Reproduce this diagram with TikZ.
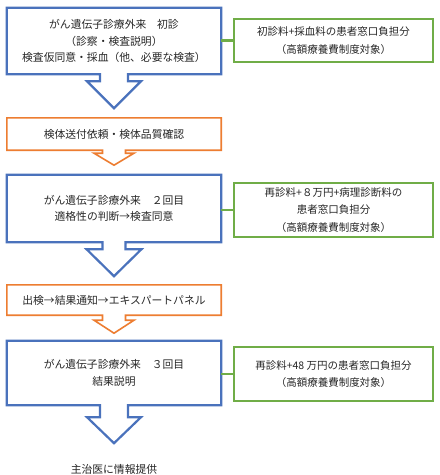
\documentclass[tikz,border=0pt]{standalone}
\usepackage{fontspec}
\setmainfont{Noto Sans CJK JP}
\definecolor{cblue}{HTML}{4A72BC}
\definecolor{corange}{HTML}{ED7D31}
\definecolor{cgreen}{HTML}{70AD47}
\newcommand\drawcallout[6]{%
  \draw[#2] (#1.south west) -- (#1.north west) -- (#1.north east) -- (#1.south east)
    -- ([xshift=#3pt]#1.south) -- ++(0,#4) -- ++({#5-#3},0) -- ++(-#5,#6)
    -- ++(-#5,-#6) -- ++({#5-#3},0) -- ++(0,-#4) -- cycle;}
\begin{document}
\begin{tikzpicture}[x=1pt,y=-1pt,
  box/.style={draw=none, align=center, inner sep=0pt, minimum width=214pt,
    font=\fontsize{10.8}{16.5}\selectfont, text=black!85},
  gbox/.style={draw=cgreen, line width=2.5pt, align=center, inner sep=0pt,
    minimum width=199pt, font=\fontsize{10.5}{17.5}\selectfont, text=black!85},
  blueline/.style={draw=cblue, line width=2.2pt, line join=miter},
  orangeline/.style={draw=corange, line width=1.6pt, line join=miter},
  gline/.style={draw=cgreen, line width=2.5pt}]
\useasboundingbox (0,0) rectangle (440,475);
\fill[white] (0,0) rectangle (440,475);

\node[box, minimum height=66pt] (b1) at (114,41)
  {がん遺伝子診療外来　初診\\（診察・検査説明）\\検査仮同意・採血（他、必要な検査）};
\drawcallout{b1}{blueline}{14}{7}{27}{27}

\node[box, minimum height=32pt] (o1) at (114,134) {検体送付依頼・検体品質確認};
\drawcallout{o1}{orangeline}{11.5}{3}{20}{12}

\node[box, minimum height=67pt] (b2) at (114,208.5)
  {がん遺伝子診療外来　２回目\\適格性の判断→検査同意};
\drawcallout{b2}{blueline}{11.5}{7}{27.5}{27}

\node[box, minimum height=30pt] (o2) at (114,300) {出検→結果通知→エキスパートパネル};
\drawcallout{o2}{orangeline}{11.5}{5}{20}{13}

\node[box, minimum height=64pt] (b3) at (114,373)
  {がん遺伝子診療外来　３回目\\結果説明};
\drawcallout{b3}{blueline}{14}{12}{27}{26}

\node[box, minimum height=0pt] (fin) at (114,469) {主治医に情報提供};

\node[gbox, minimum height=43pt] (g1) at (333.5,40.5)
  {初診料+採血料の患者窓口負担分\\（高額療養費制度対象）};
\node[gbox, minimum height=54pt] (g2) at (333.5,210)
  {再診料+８万円+病理診断料の\\患者窓口負担分\\（高額療養費制度対象）};
\node[gbox, minimum height=54pt] (g3) at (333.5,374)
  {再診料+48 万円の患者窓口負担分\\（高額療養費制度対象）};

\draw[gline] (b1.east |- g1.west) -- (g1.west);
\draw[gline] (b2.east |- g2.west) -- (g2.west);
\draw[gline] (b3.east |- g3.west) -- (g3.west);
\end{tikzpicture}
\end{document}
